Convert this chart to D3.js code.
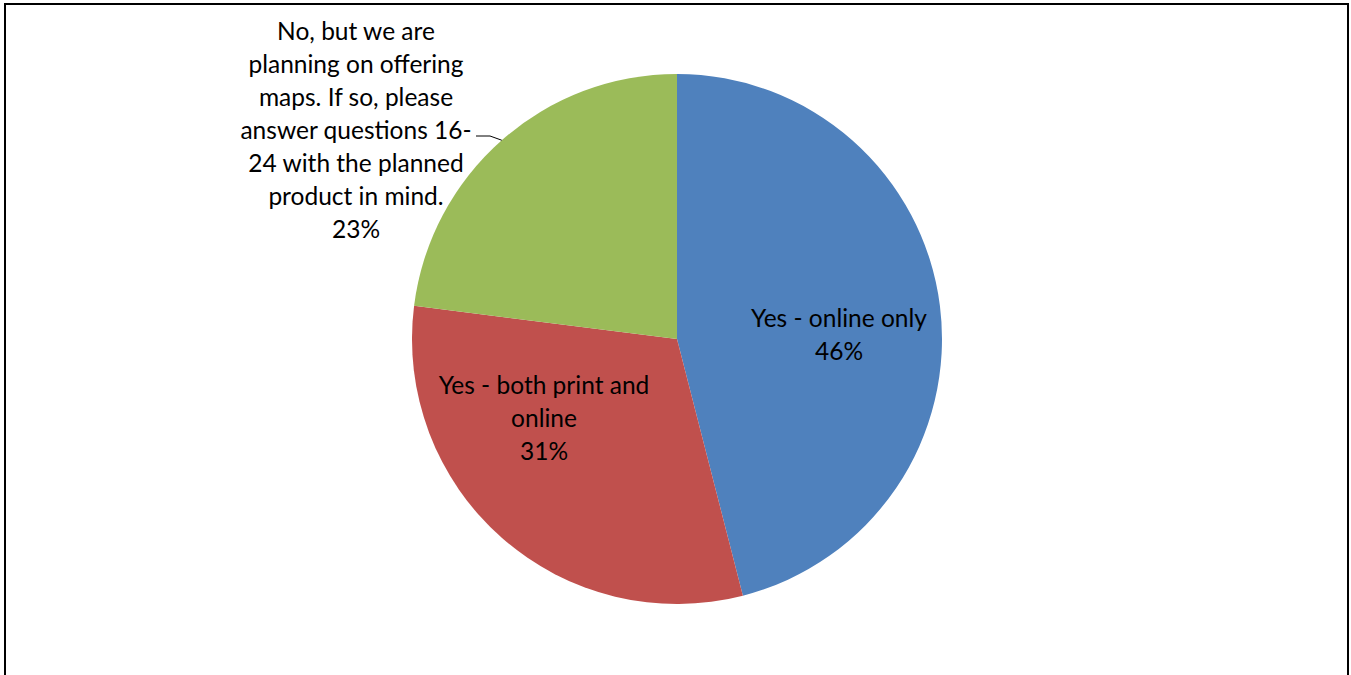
<!DOCTYPE html>
<html>
<head>
<meta charset="utf-8">
<script src="https://cdn.jsdelivr.net/npm/d3@7"></script>
<style>
  html, body { margin: 0; padding: 0; background: #fff; }
  svg { display: block; }
</style>
</head>
<body>
<svg id="chart" width="1351" height="675"></svg>
<script>
// Survey responses: share of respondents offering maps
const categories = [
  "Yes - online only",
  "Yes - both print and online",
  "No, but we are planning on offering maps. If so, please answer questions 16-24 with the planned product in mind."
];
const values = [46, 31, 23];
const colors = ["#4F81BD", "#C0504D", "#9BBB59"];
// Wrapped label lines as they appear on the chart
const labelLines = [
  ["Yes - online only", "46%"],
  ["Yes - both print and", "online", "31%"],
  ["No, but we are", "planning on offering", "maps. If so, please", "answer questions 16-", "24 with the planned", "product in mind.", "23%"]
];

const svg = d3.select("#chart");

// Outer frame (bottom edge runs past the visible area)
svg.append("rect")
  .attr("x", 5).attr("y", 4)
  .attr("width", 1343).attr("height", 700)
  .attr("fill", "#fff")
  .attr("stroke", "#000")
  .attr("stroke-width", 2);

const cx = 677, cy = 339, r = 265;
const data = values.map((v, i) => ({ name: categories[i], value: v, color: colors[i], lines: labelLines[i] }));

const pie = d3.pie().sort(null).value(d => d.value);
const arc = d3.arc().innerRadius(0).outerRadius(r);
const arcs = pie(data);

const g = svg.append("g").attr("transform", `translate(${cx},${cy})`);
g.selectAll("path.slice")
  .data(arcs)
  .join("path")
  .attr("class", "slice")
  .attr("d", arc)
  .attr("fill", d => d.data.color);

const fontSize = 24.5;
const lineH = 33;

function drawLabel(lines, x, yCenter) {
  const t = svg.append("text")
    .attr("text-anchor", "middle")
    .attr("font-family", "Lato, 'Open Sans', sans-serif")
    .attr("font-size", fontSize)
    .attr("fill", "#000");
  const y0 = yCenter - (lines.length - 1) * lineH / 2;
  lines.forEach((s, i) => {
    t.append("tspan")
      .attr("x", x)
      .attr("y", y0 + i * lineH)
      .attr("dy", "0.35em")
      .text(s);
  });
}

drawLabel(labelLines[0], cx + 162, cy - 4);
drawLabel(labelLines[1], cx - 133, cy + 79);
drawLabel(labelLines[2], 356, 130);

// Leader line from the outside label to the middle of the green slice's rim
const midAngle = (arcs[2].startAngle + arcs[2].endAngle) / 2;
const ex = cx + r * Math.sin(midAngle), ey = cy - r * Math.cos(midAngle);
svg.append("polyline")
  .attr("points", `476,136 490,136 ${ex},${ey}`)
  .attr("fill", "none")
  .attr("stroke", "#000")
  .attr("stroke-width", 1);
</script>
</body>
</html>
